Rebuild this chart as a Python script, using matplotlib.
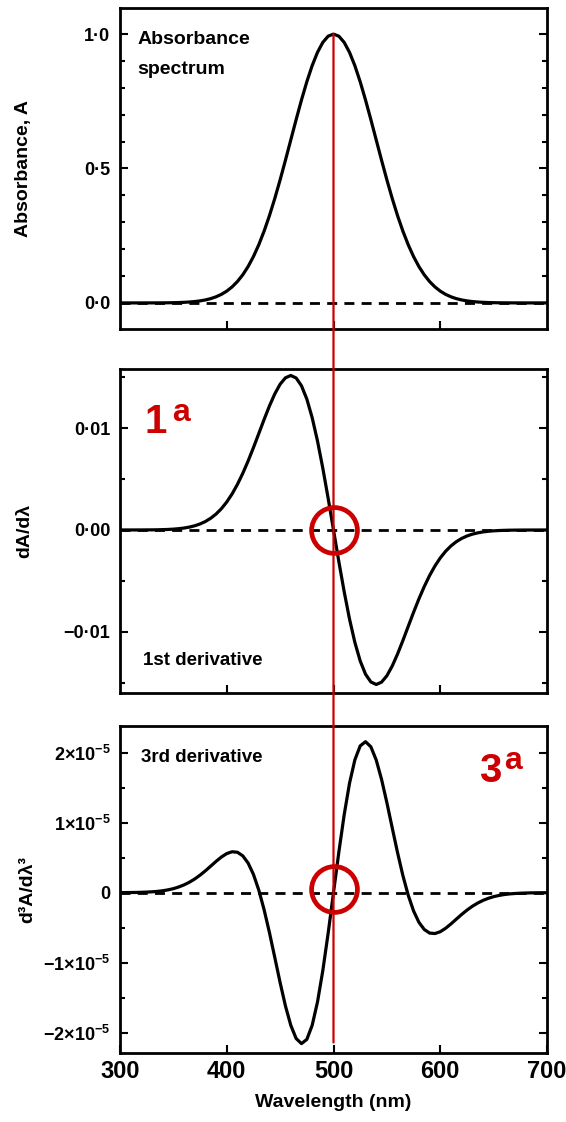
import matplotlib
matplotlib.use("Agg")
import matplotlib.pyplot as plt
from matplotlib import font_manager
from matplotlib.ticker import MultipleLocator
from matplotlib.patches import ConnectionPatch

# ---------------- data ----------------
wavelength = [300, 305, 310, 315, 320, 325, 330, 335, 340, 345,
              350, 355, 360, 365, 370, 375, 380, 385, 390, 395,
              400, 405, 410, 415, 420, 425, 430, 435, 440, 445,
              450, 455, 460, 465, 470, 475, 480, 485, 490, 495,
              500, 505, 510, 515, 520, 525, 530, 535, 540, 545,
              550, 555, 560, 565, 570, 575, 580, 585, 590, 595,
              600, 605, 610, 615, 620, 625, 630, 635, 640, 645,
              650, 655, 660, 665, 670, 675, 680, 685, 690, 695, 700]

absorbance = [0.0000, 0.0000, 0.0000, 0.0000, 0.0000, 0.0001, 0.0001, 0.0002, 0.0003, 0.0005,
              0.0009, 0.0014, 0.0022, 0.0034, 0.0051, 0.0076, 0.0111, 0.0160, 0.0228, 0.0319,
              0.0439, 0.0596, 0.0796, 0.1046, 0.1353, 0.1724, 0.2163, 0.2671, 0.3247, 0.3886,
              0.4578, 0.5311, 0.6065, 0.6819, 0.7548, 0.8226, 0.8825, 0.9321, 0.9692, 0.9922,
              1.0000,
              0.9922, 0.9692, 0.9321, 0.8825, 0.8226, 0.7548, 0.6819, 0.6065, 0.5311, 0.4578,
              0.3886, 0.3247, 0.2671, 0.2163, 0.1724, 0.1353, 0.1046, 0.0796, 0.0596, 0.0439,
              0.0319, 0.0228, 0.0160, 0.0111, 0.0076, 0.0051, 0.0034, 0.0022, 0.0014, 0.0009,
              0.0005, 0.0003, 0.0002, 0.0001, 0.0001, 0.0000, 0.0000, 0.0000, 0.0000, 0.0000]

first_derivative = [0.000001, 0.000001, 0.000002, 0.000003, 0.000005, 0.000008, 0.000013, 0.000021,
                    0.000034, 0.000053, 0.000083, 0.000127, 0.000191, 0.000284, 0.000413, 0.000592,
                    0.000833, 0.001153, 0.001567, 0.002093, 0.002746, 0.003538, 0.004475, 0.005556,
                    0.006767, 0.008082, 0.009462, 0.010849, 0.012174, 0.013357, 0.014307, 0.014937,
                    0.015163, 0.014917, 0.014153, 0.012853, 0.011031, 0.008738, 0.006058, 0.003101,
                    0.000000,
                    -0.003101, -0.006058, -0.008738, -0.011031, -0.012853, -0.014153, -0.014917, -0.015163,
                    -0.014937, -0.014307, -0.013357, -0.012174, -0.010849, -0.009462, -0.008082, -0.006767,
                    -0.005556, -0.004475, -0.003538, -0.002746, -0.002093, -0.001567, -0.001153, -0.000833,
                    -0.000592, -0.000413, -0.000284, -0.000191, -0.000127, -0.000083, -0.000053, -0.000034,
                    -0.000021, -0.000013, -0.000008, -0.000005, -0.000003, -0.000002, -0.000001, -0.000001]

third_derivative = [0.001e-5, 0.001e-5, 0.002e-5, 0.003e-5, 0.005e-5, 0.008e-5, 0.012e-5, 0.018e-5,
                    0.027e-5, 0.040e-5, 0.057e-5, 0.081e-5, 0.111e-5, 0.149e-5, 0.195e-5, 0.250e-5,
                    0.312e-5, 0.379e-5, 0.447e-5, 0.509e-5, 0.558e-5, 0.584e-5, 0.577e-5, 0.526e-5,
                    0.423e-5, 0.261e-5, 0.037e-5, -0.244e-5, -0.571e-5, -0.926e-5, -1.285e-5, -1.619e-5,
                    -1.895e-5, -2.083e-5, -2.156e-5, -2.096e-5, -1.896e-5, -1.562e-5, -1.112e-5, -0.578e-5,
                    0.000,
                    0.578e-5, 1.112e-5, 1.562e-5, 1.896e-5, 2.096e-5, 2.156e-5, 2.083e-5, 1.895e-5,
                    1.619e-5, 1.285e-5, 0.926e-5, 0.571e-5, 0.244e-5, -0.037e-5, -0.261e-5, -0.423e-5,
                    -0.526e-5, -0.577e-5, -0.584e-5, -0.558e-5, -0.509e-5, -0.447e-5, -0.379e-5, -0.312e-5,
                    -0.250e-5, -0.195e-5, -0.149e-5, -0.111e-5, -0.081e-5, -0.057e-5, -0.040e-5, -0.027e-5,
                    -0.018e-5, -0.012e-5, -0.008e-5, -0.005e-5, -0.003e-5, -0.002e-5, -0.001e-5, -0.001e-5]

x_ticks = [300, 400, 500, 600, 700]
x_tick_labels = ['300', '400', '500', '600', '700']
abs_ticks = [0.0, 0.5, 1.0]
abs_tick_labels = ['0·0', '0·5', '1·0']
d1_ticks = [-0.01, 0.0, 0.01]
d1_tick_labels = ['−0·01', '0·00', '0·01']
d3_ticks = [-2e-5, -1e-5, 0.0, 1e-5, 2e-5]
d3_tick_labels = [r'$\mathregular{-2{\times}10^{-5}}$', r'$\mathregular{-1{\times}10^{-5}}$', '0',
                  r'$\mathregular{1{\times}10^{-5}}$', r'$\mathregular{2{\times}10^{-5}}$']
marked_wavelength = 500

# ---------------- fonts ----------------
def pick(*names):
    for n in names:
        try:
            font_manager.findfont(font_manager.FontProperties(family=n), fallback_to_default=False)
            return n
        except Exception:
            pass
    return 'DejaVu Sans'

MAIN = pick('Liberation Sans', 'Arial', 'DejaVu Sans')
NARROW = pick('Liberation Sans Narrow', 'Liberation Sans', 'DejaVu Sans')

plt.rcParams['font.family'] = [MAIN, 'DejaVu Sans']
plt.rcParams['font.weight'] = 'bold'
plt.rcParams['mathtext.fontset'] = 'custom'
plt.rcParams['mathtext.rm'] = NARROW + ':bold'
plt.rcParams['mathtext.bf'] = NARROW + ':bold'
plt.rcParams['mathtext.it'] = NARROW + ':bold:italic'

RED = '#cc0000'

fig = plt.figure(figsize=(5.66, 11.22), dpi=100)
FW, FH = 566.0, 1122.0
LEFT, RIGHT = 120, 547


def ax_at(top_px, bot_px):
    return fig.add_axes([LEFT / FW, 1 - bot_px / FH, (RIGHT - LEFT) / FW, (bot_px - top_px) / FH])


ax1 = ax_at(8, 329)
ax2 = ax_at(369, 693)
ax3 = ax_at(726, 1053)

series = [(ax1, absorbance), (ax2, first_derivative), (ax3, third_derivative)]
for ax, vals in series:
    ax.set_xlim(300, 700)
    for s in ax.spines.values():
        s.set_linewidth(2.0)
    ax.axhline(0, color='black', lw=2.0, dashes=(3.6, 2.6), zorder=1)
    ax.plot(wavelength, vals, color='black', lw=2.3, zorder=3, solid_joinstyle='round')
    ax.tick_params(which='both', direction='in', left=True, right=True, top=False, bottom=True,
                   width=1.5, pad=7)
    ax.tick_params(which='major', length=5.5)
    ax.tick_params(which='minor', length=3.5)
    ax.set_xticks(x_ticks[1:4])
    ax.tick_params(axis='x', labelbottom=False)

# panel 1
ax1.set_ylim(-0.097, 1.097)
ax1.set_yticks(abs_ticks, abs_tick_labels)
ax1.yaxis.set_minor_locator(MultipleLocator(0.1))
ax1.set_ylabel('Absorbance, A', fontsize=14, fontweight='bold', family=MAIN)
ax1.yaxis.set_label_coords(-0.205, 0.5)
ax1.text(0.040, 0.889, 'Absorbance', transform=ax1.transAxes, ha='left', va='baseline',
         fontsize=14, fontweight='bold')
ax1.text(0.040, 0.794, 'spectrum', transform=ax1.transAxes, ha='left', va='baseline',
         fontsize=14, fontweight='bold')

# panel 2
ax2.set_ylim(-0.0160, 0.0158)
ax2.set_yticks(d1_ticks, d1_tick_labels)
ax2.yaxis.set_minor_locator(MultipleLocator(0.005))
ax2.set_ylabel('dA/dλ', fontsize=14, fontweight='bold', family=MAIN)
ax2.yaxis.set_label_coords(-0.203, 0.5)
ax2.text(0.054, 0.087, '1st derivative', transform=ax2.transAxes, ha='left', va='baseline',
         fontsize=13.5, fontweight='bold')
ax2.text(0.0585, 0.802, '1', transform=ax2.transAxes, ha='left', va='baseline',
         fontsize=29, fontweight='bold', color=RED)
ax2.text(0.122, 0.840, 'a', transform=ax2.transAxes, ha='left', va='baseline',
         fontsize=23, fontweight='bold', color=RED)
ax2.plot([marked_wavelength], [0], marker='o', ms=33, mfc='none', mec=RED, mew=3.4,
         zorder=11, clip_on=False)

# panel 3
ax3.set_ylim(-2.29e-5, 2.38e-5)
ax3.set_yticks(d3_ticks, d3_tick_labels)
ax3.yaxis.set_minor_locator(MultipleLocator(0.5e-5))
ax3.set_ylabel('d³A/dλ³', fontsize=14, fontweight='bold', family=MAIN)
ax3.yaxis.set_label_coords(-0.195, 0.5)
ax3.text(0.049, 0.89, '3rd derivative', transform=ax3.transAxes, ha='left', va='baseline',
         fontsize=13.5, fontweight='bold')
ax3.text(0.841, 0.829, '3', transform=ax3.transAxes, ha='left', va='baseline',
         fontsize=29, fontweight='bold', color=RED)
ax3.text(0.900, 0.868, 'a', transform=ax3.transAxes, ha='left', va='baseline',
         fontsize=23, fontweight='bold', color=RED)
ax3.plot([marked_wavelength], [0.05e-5], marker='o', ms=33, mfc='none', mec=RED, mew=3.4,
         zorder=11, clip_on=False)
ax3.set_xticks(x_ticks, x_tick_labels)
ax3.tick_params(axis='x', labelbottom=True, labelsize=17, pad=5)
ax3.set_xlabel('Wavelength (nm)', fontsize=14, fontweight='bold', family=MAIN)
ax3.xaxis.set_label_coords(0.5, -0.125)

for ax in (ax1, ax2, ax3):
    ax.tick_params(axis='y', labelsize=13)
    for lab in ax.get_yticklabels() + ax.get_xticklabels():
        lab.set_family([NARROW, 'DejaVu Sans'])
        lab.set_fontweight('bold')

# red vertical marker line from the absorbance maximum down to the 3rd-derivative panel
con = ConnectionPatch(xyA=(marked_wavelength, 1.0), coordsA=ax1.transData,
                      xyB=(marked_wavelength, -2.14e-5), coordsB=ax3.transData,
                      color=RED, lw=1.6, zorder=20, shrinkA=0, shrinkB=0)
fig.add_artist(con)

fig.savefig('out.png', dpi=100)
